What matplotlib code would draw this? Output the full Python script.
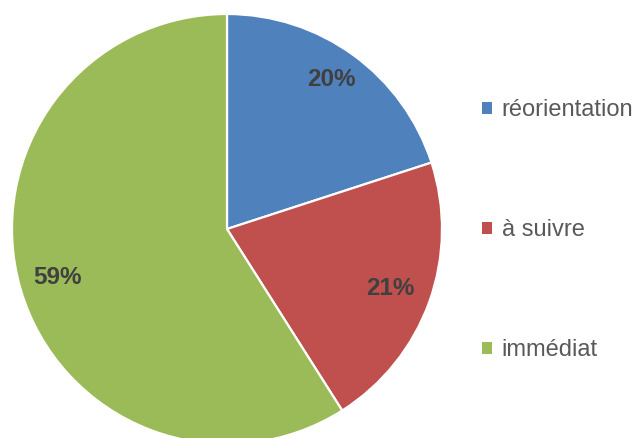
import matplotlib
matplotlib.use("Agg")
from matplotlib import pyplot as plt
from matplotlib.patches import Patch
import numpy as np

labels = ["réorientation", "à suivre", "immédiat"]
values = [20, 21, 59]
colors = ["#4F81BD", "#C0504D", "#9BBB59"]

# label placement (angle in degrees, fraction of radius) - Excel "best fit" style
label_angle = [55, -20, -164]
label_dist = [0.85, 0.81, 0.82]

plt.rcParams['font.family'] = ['Liberation Sans', 'DejaVu Sans']

fig = plt.figure(figsize=(6.4, 4.38), dpi=100)
ax = fig.add_axes([12 / 640, (438 - 229 - 215) / 438, 430 / 640, 430 / 438])

wedges, _ = ax.pie(values, colors=colors, startangle=90, counterclock=False,
                   radius=1, wedgeprops=dict(edgecolor="white", linewidth=1.6))

for v, a, d in zip(values, label_angle, label_dist):
    t = np.deg2rad(a)
    ax.text(d * np.cos(t), d * np.sin(t), "%d%%" % v, ha="center", va="center",
            fontsize=17.5, fontweight="bold", color="#404040")

ax.set_xlim(-1, 1)
ax.set_ylim(-1, 1)
ax.set_aspect("equal")
ax.axis("off")

handles = [Patch(facecolor=c, edgecolor="none") for c in colors]
fig.legend(handles, labels, loc="center left", bbox_to_anchor=(0.753, 0.474),
           frameon=False, fontsize=17, labelcolor="#595959",
           handlelength=0.42, handleheight=0.42, handletextpad=0.42,
           labelspacing=4.15, borderaxespad=0, borderpad=0)

fig.savefig("out.png", dpi=100)
